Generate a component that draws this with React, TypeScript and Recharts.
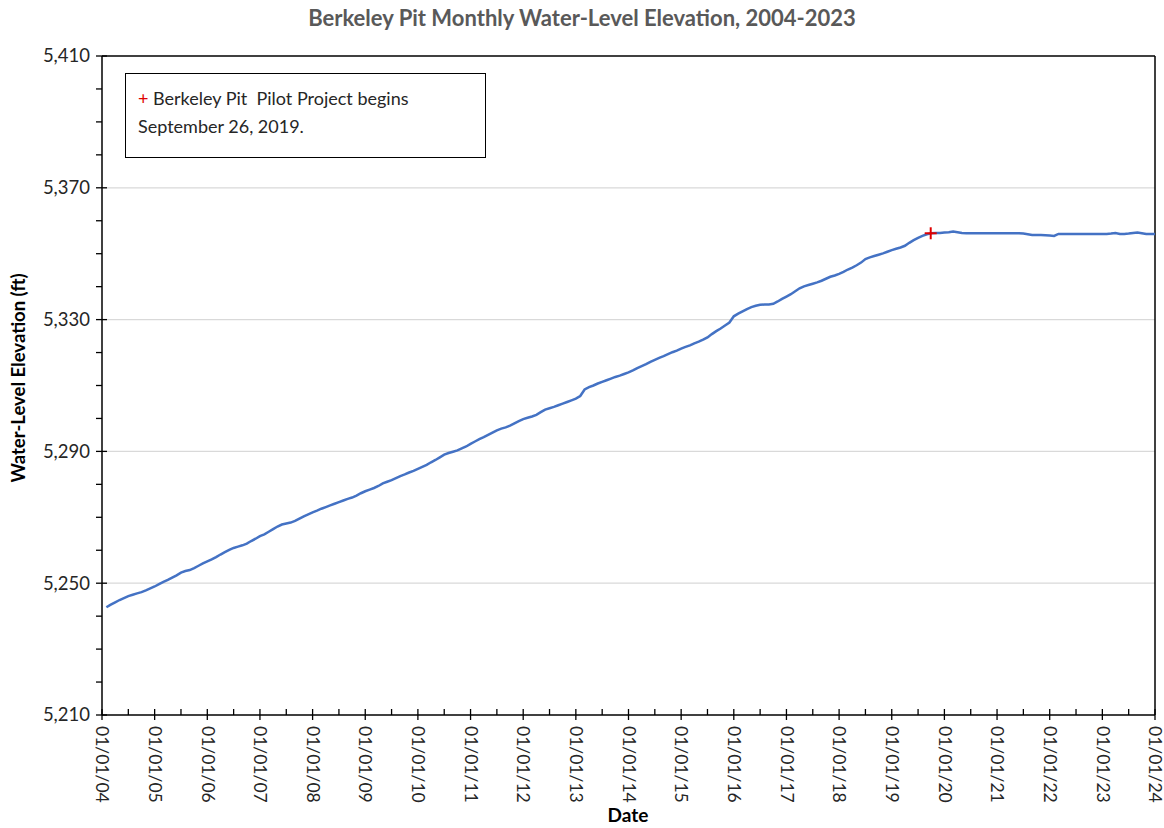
import React from "react";
import { ComposedChart, Line, Scatter, XAxis, YAxis, ReferenceLine } from "recharts";

// monthly water-level elevation (ft), Jan 2004 .. Dec 2023, one row per year
const startYear = 2004;
const monthlyLevels = [
  5242.7, 5243.5, 5244.2, 5244.9, 5245.5, 5246.1, 5246.5, 5246.9, 5247.3, 5247.8, 5248.4, 5249.0, // 2004
  5249.7, 5250.4, 5251.0, 5251.7, 5252.4, 5253.2, 5253.7, 5254.0, 5254.6, 5255.3, 5256.0, 5256.6, // 2005
  5257.2, 5257.9, 5258.7, 5259.4, 5260.1, 5260.7, 5261.1, 5261.5, 5262.0, 5262.8, 5263.5, 5264.3, // 2006
  5264.8, 5265.6, 5266.4, 5267.2, 5267.8, 5268.1, 5268.4, 5268.9, 5269.6, 5270.3, 5270.9, 5271.5, // 2007
  5272.0, 5272.6, 5273.1, 5273.6, 5274.1, 5274.6, 5275.1, 5275.6, 5276.0, 5276.6, 5277.3, 5277.9, // 2008
  5278.4, 5278.9, 5279.5, 5280.3, 5280.8, 5281.3, 5281.9, 5282.5, 5283.0, 5283.6, 5284.1, 5284.7, // 2009
  5285.3, 5285.9, 5286.7, 5287.4, 5288.2, 5289.0, 5289.5, 5289.9, 5290.3, 5290.9, 5291.5, 5292.3, // 2010
  5293.0, 5293.7, 5294.3, 5295.0, 5295.7, 5296.4, 5296.9, 5297.3, 5297.8, 5298.5, 5299.2, 5299.8, // 2011
  5300.2, 5300.6, 5301.1, 5301.9, 5302.7, 5303.1, 5303.5, 5304.0, 5304.5, 5305.0, 5305.5, 5306.0, // 2012
  5306.8, 5308.8, 5309.5, 5310.0, 5310.6, 5311.1, 5311.6, 5312.1, 5312.6, 5313.0, 5313.5, 5314.0, // 2013
  5314.6, 5315.3, 5315.9, 5316.5, 5317.2, 5317.8, 5318.4, 5318.9, 5319.5, 5320.1, 5320.6, 5321.2, // 2014
  5321.7, 5322.2, 5322.8, 5323.3, 5323.9, 5324.6, 5325.6, 5326.5, 5327.3, 5328.2, 5329.1, 5331.0, // 2015
  5331.8, 5332.5, 5333.2, 5333.8, 5334.2, 5334.5, 5334.6, 5334.6, 5334.8, 5335.5, 5336.3, 5337.0, // 2016
  5337.7, 5338.6, 5339.5, 5340.1, 5340.5, 5340.9, 5341.3, 5341.8, 5342.4, 5343.0, 5343.4, 5343.9, // 2017
  5344.5, 5345.2, 5345.8, 5346.5, 5347.3, 5348.4, 5348.9, 5349.3, 5349.7, 5350.1, 5350.6, 5351.1, // 2018
  5351.5, 5351.9, 5352.4, 5353.3, 5354.1, 5354.8, 5355.4, 5355.9, 5356.2, 5356.3, 5356.3, 5356.4, // 2019
  5356.5, 5356.7, 5356.5, 5356.3, 5356.2, 5356.2, 5356.2, 5356.2, 5356.2, 5356.2, 5356.2, 5356.2, // 2020
  5356.2, 5356.2, 5356.2, 5356.2, 5356.2, 5356.1, 5355.9, 5355.7, 5355.7, 5355.7, 5355.6, 5355.5, // 2021
  5355.4, 5356.0, 5356.0, 5356.0, 5356.0, 5356.0, 5356.0, 5356.0, 5356.0, 5356.0, 5356.0, 5356.0, // 2022
  5356.0, 5356.1, 5356.3, 5356.0, 5356.0, 5356.1, 5356.3, 5356.4, 5356.2, 5356.0, 5356.0, 5356.0, // 2023
];

// pilot project start, Sept 26 2019
const pilotStart = [{ t: 2019.74, level: 5356.2 }];

const yearTicks = [
  2004, 2005, 2006, 2007, 2008, 2009, 2010, 2011, 2012, 2013, 2014,
  2015, 2016, 2017, 2018, 2019, 2020, 2021, 2022, 2023, 2024,
];
const halfYearTicks = [
  2004.5, 2005.5, 2006.5, 2007.5, 2008.5, 2009.5, 2010.5, 2011.5, 2012.5, 2013.5,
  2014.5, 2015.5, 2016.5, 2017.5, 2018.5, 2019.5, 2020.5, 2021.5, 2022.5, 2023.5,
];
const levelTicks = [5210, 5250, 5290, 5330, 5370, 5410];
const minorLevelTicks = [
  5220, 5230, 5240, 5260, 5270, 5280, 5300, 5310, 5320,
  5340, 5350, 5360, 5380, 5390, 5400,
];
const gridLevels = [5250, 5290, 5330, 5370];

const FONT = "Lato, 'Liberation Sans', sans-serif";

const data = monthlyLevels.map((level, i) => ({ t: startYear + (i + 1) / 12, level }));
const xTicks = [...yearTicks, ...halfYearTicks].sort((a, b) => a - b);
const yTicks = [...levelTicks, ...minorLevelTicks].sort((a, b) => a - b);

function XTick({ x, y, payload }: any) {
  const major = yearTicks.includes(payload.value);
  const ty = y + 11;
  return (
    <g>
      <line x1={x} x2={x} y1={y - 6} y2={major ? y + 5 : y} stroke="#000" strokeWidth={1.3} />
      {major && (
        <text
          x={x}
          y={ty}
          dy="0.33em"
          transform={`rotate(90 ${x} ${ty})`}
          textAnchor="start"
          fontSize={17.5}
          fontFamily={FONT}
          fill="#262626"
        >
          {`01/01/${String(payload.value).slice(2)}`}
        </text>
      )}
    </g>
  );
}

function YTick({ x, y, payload }: any) {
  const major = levelTicks.includes(payload.value);
  return (
    <g>
      <line x1={x - 6} x2={major ? x + 5 : x} y1={y} y2={y} stroke="#000" strokeWidth={1.3} />
      {major && (
        <text x={x - 12} y={y} dy="0.35em" textAnchor="end" fontSize={18.5} fontFamily={FONT} fill="#262626">
          {payload.value.toLocaleString("en-US")}
        </text>
      )}
    </g>
  );
}

function Cross({ cx, cy }: any) {
  return (
    <g>
      <line x1={cx - 6} x2={cx + 6} y1={cy} y2={cy} stroke="#e00000" strokeWidth={2} />
      <line x1={cx} x2={cx} y1={cy - 6} y2={cy + 6} stroke="#e00000" strokeWidth={2} />
    </g>
  );
}

export default function App() {
  return (
    <div style={{ position: "absolute", left: 0, top: 0, width: 1164, height: 828, background: "#fff", fontFamily: FONT }}>
      <ComposedChart width={1164} height={828} data={data} margin={{ top: 56, right: 9, bottom: 0, left: 42 }}>
        {gridLevels.map((v) => (
          <ReferenceLine key={v} y={v} stroke="#d9d9d9" strokeWidth={1.3} />
        ))}
        <ReferenceLine y={5410} stroke="#000" strokeWidth={1.5} />
        <ReferenceLine x={2024} stroke="#000" strokeWidth={1.5} />
        <XAxis
          type="number"
          dataKey="t"
          domain={[2004, 2024]}
          ticks={xTicks}
          interval={0}
          tick={<XTick />}
          tickLine={false}
          tickSize={0}
          tickMargin={0}
          height={113}
          axisLine={{ stroke: "#000", strokeWidth: 1.5 }}
          allowDataOverflow
        />
        <YAxis
          type="number"
          domain={[5210, 5410]}
          ticks={yTicks}
          interval={0}
          tick={<YTick />}
          tickLine={false}
          tickSize={0}
          tickMargin={0}
          width={60}
          axisLine={{ stroke: "#000", strokeWidth: 1.5 }}
          allowDataOverflow
        />
        <Line
          type="linear"
          dataKey="level"
          stroke="#4472C4"
          strokeWidth={2.5}
          dot={false}
          isAnimationActive={false}
        />
        <Scatter data={pilotStart} dataKey="level" shape={<Cross />} isAnimationActive={false} />
      </ComposedChart>

      <div
        style={{
          position: "absolute",
          left: 0,
          width: 1164,
          top: 4,
          textAlign: "center",
          fontSize: 22,
          fontWeight: 700,
          color: "#595959",
        }}
      >
        Berkeley Pit Monthly Water-Level Elevation, 2004-2023
      </div>

      <div
        style={{
          position: "absolute",
          left: 18,
          top: 378,
          transform: "translate(-50%, -50%) rotate(-90deg)",
          whiteSpace: "nowrap",
          fontSize: 18.5,
          fontWeight: 700,
          color: "#000",
        }}
      >
        Water-Level Elevation (ft)
      </div>

      <div
        style={{
          position: "absolute",
          left: 628,
          top: 815,
          transform: "translate(-50%, -50%)",
          fontSize: 19,
          lineHeight: "22px",
          fontWeight: 700,
          color: "#000",
        }}
      >
        Date
      </div>

      <div
        style={{
          position: "absolute",
          left: 125,
          top: 73,
          width: 361,
          height: 85,
          boxSizing: "border-box",
          border: "1.5px solid #000",
          padding: "10px 12px",
          fontSize: 18,
          lineHeight: "28px",
          color: "#262626",
        }}
      >
        <span style={{ color: "#e00000" }}>+</span> Berkeley Pit&nbsp; Pilot Project begins
        <br />
        September 26, 2019.
      </div>
    </div>
  );
}
